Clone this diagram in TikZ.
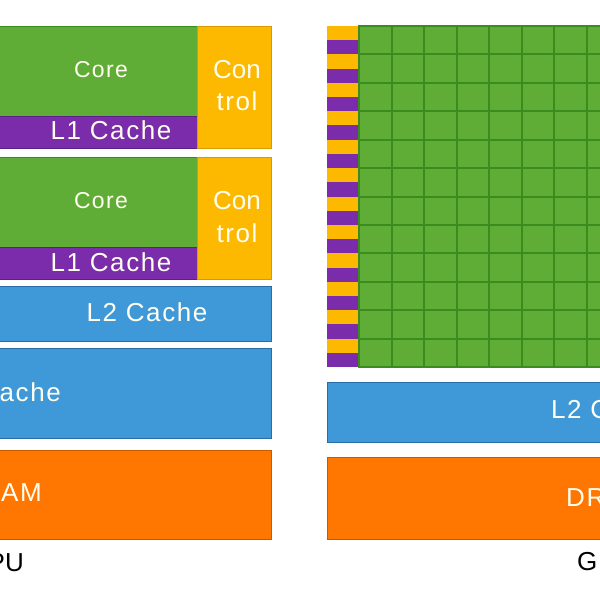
\documentclass[tikz,border=0pt]{standalone}
\usepackage{fontspec}
\setmainfont{Liberation Sans}
\definecolor{cgreen}{HTML}{5FAD37}
\definecolor{cgreenD}{HTML}{3A8C1C}
\definecolor{cyellow}{HTML}{FDB800}
\definecolor{cyellowD}{HTML}{D89A00}
\definecolor{cpurple}{HTML}{7A2CAA}
\definecolor{cpurpleD}{HTML}{5A2088}
\definecolor{cblue}{HTML}{3F99D8}
\definecolor{cblueD}{HTML}{2A6CA6}
\definecolor{corange}{HTML}{FF7700}
\definecolor{corangeD}{HTML}{C85A00}
\definecolor{ctext}{HTML}{FFFEF0}
\begin{document}
\begin{tikzpicture}[x=1pt,y=-1pt,
  blk/.style={draw, line width=1pt, inner sep=0pt, outer sep=0pt, anchor=north west},
  core/.style={blk, fill=cgreen, draw=cgreenD},
  cell/.style={blk, fill=cgreen, draw=cgreenD, line width=2pt},
  ctrl/.style={blk, fill=cyellow, draw=cyellowD},
  stripey/.style={blk, fill=cyellow, draw=none},
  stripep/.style={blk, fill=cpurple, draw=none},
  lone/.style={blk, fill=cpurple, draw=cpurpleD},
  cache/.style={blk, fill=cblue, draw=cblueD},
  dram/.style={blk, fill=corange, draw=corangeD},
  lbl/.style={text=ctext, inner sep=0pt, font=\fontsize{26}{28}\selectfont\addfontfeature{LetterSpace=6}},
  lbln/.style={text=ctext, inner sep=0pt, font=\fontsize{26}{28}\selectfont},
  lblc/.style={text=ctext, inner sep=0pt, font=\fontsize{23}{26}\selectfont\addfontfeature{LetterSpace=6}},
  captxt/.style={text=black, inner sep=0pt, font=\fontsize{26}{28}\selectfont}]
\useasboundingbox (0,0) rectangle (600,600);
\clip (0,0) rectangle (600,600);
% CPU
\node[core, minimum width=217pt, minimum height=90pt] (core1) at (-20,26) {};
\node[lone, minimum width=217pt, minimum height=32pt] (l1a) at (-20,116) {};
\node[ctrl, minimum width=74pt, minimum height=122pt] (ctrl1) at (197,26) {};
\node[core, minimum width=217pt, minimum height=90pt] (core2) at (-20,157) {};
\node[lone, minimum width=217pt, minimum height=32pt] (l1b) at (-20,247) {};
\node[ctrl, minimum width=74pt, minimum height=122pt] (ctrl2) at (197,157) {};
\node[cache, minimum width=291pt, minimum height=55pt] (l2c) at (-20,286) {};
\node[cache, minimum width=291pt, minimum height=90pt] (l3c) at (-20,348) {};
\node[dram, minimum width=291pt, minimum height=89pt] (dramc) at (-20,450) {};
% CPU labels
\node[lblc] (t1) at (101,70) {Core};
\node[lbln] (t2) at (237,70) {Con};
\node[lbl] (t3) at (237,101) {trol};
\node[lbl] (t4) at (111,130) {L1 Cache};
\node[lblc] (t5) at (101,201) {Core};
\node[lbln] (t6) at (237,201) {Con};
\node[lbl] (t7) at (237,233) {trol};
\node[lbl] (t8) at (111,262) {L1 Cache};
\node[lbl] (t9) at (147,312) {L2 Cache};
\node[lbl, anchor=east] (t10) at (61,392) {ache};
\node[lbl, anchor=east] (t11) at (42,493) {AM};
\node[captxt, anchor=east] (t12) at (24,563) {PU};
% GPU
\foreach \k in {0,...,11} {
  \node[stripey, minimum width=32pt, minimum height=14.2pt] (gy\k) at (327,{26+28.42*\k}) {};
  \node[stripep, minimum width=32pt, minimum height=14.2pt] (gp\k) at (327,{40.2+28.42*\k}) {};
  \foreach \i in {0,...,7} {
    \node[cell, minimum width=32.5pt, minimum height=28.42pt] (g\i-\k) at ({359+32.5*\i},{26+28.42*\k}) {};
  }
}
\node[cache, minimum width=300pt, minimum height=60pt] (l2g) at (327,382) {};
\node[dram, minimum width=300pt, minimum height=82pt] (dramg) at (327,457) {};
\node[lbl, anchor=west] (t13) at (551,410) {L2 C};
\node[lbl, anchor=west] (t14) at (566,498) {DR};
\node[captxt, anchor=west] (t15) at (577,562) {G};
\end{tikzpicture}
\end{document}
